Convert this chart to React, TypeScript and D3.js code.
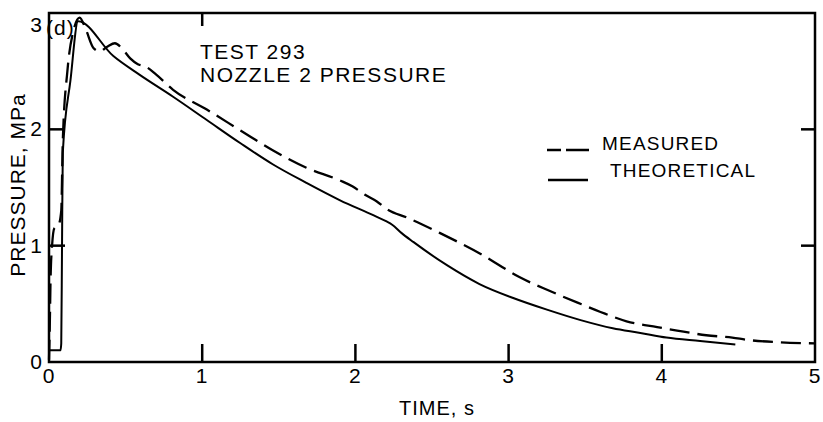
import React, { useEffect, useRef } from 'react';
import * as d3 from 'd3';

// values (time in s, pressure in MPa)
const measuredTime = [0.0, 0.005, 0.01, 0.02, 0.035, 0.06, 0.08, 0.09, 0.12, 0.16, 0.2, 0.24, 0.29, 0.33, 0.38, 0.43, 0.48, 0.53, 0.58, 0.63, 0.7, 0.81, 1.03, 1.25, 1.46, 1.68, 1.9, 1.98, 2.06, 2.14, 2.21, 2.34, 2.55, 2.83, 3.07, 3.27, 3.45, 3.6, 3.77, 3.97, 4.1, 4.29, 4.46, 4.56, 4.77, 5.0];
const measuredPressure = [0.02, 0.3, 0.7, 1.0, 1.15, 1.17, 1.3, 1.9, 2.5, 2.85, 2.96, 2.86, 2.7, 2.67, 2.71, 2.74, 2.69, 2.61, 2.56, 2.54, 2.47, 2.34, 2.17, 1.99, 1.82, 1.67, 1.56, 1.51, 1.44, 1.38, 1.31, 1.24, 1.11, 0.92, 0.73, 0.61, 0.51, 0.43, 0.35, 0.3, 0.27, 0.23, 0.21, 0.19, 0.17, 0.16];

const theoryTime = [0.0, 0.075, 0.08, 0.085, 0.09, 0.14, 0.19, 0.42, 0.59, 0.81, 1.03, 1.25, 1.46, 1.68, 1.9, 2.12, 2.2, 2.24, 2.3, 2.38, 2.6, 2.81, 3.03, 3.25, 3.47, 3.68, 3.86, 4.03, 4.25, 4.48];
const theoryPressure = [0.1, 0.1, 0.16, 1.0, 1.8, 2.42, 2.93, 2.63, 2.47, 2.28, 2.08, 1.88, 1.7, 1.54, 1.39, 1.26, 1.21, 1.18, 1.11, 1.03, 0.83, 0.67, 0.55, 0.45, 0.36, 0.29, 0.25, 0.21, 0.18, 0.15];

const xTicks = [0, 1, 2, 3, 4, 5];
const yTicks = [0, 1, 2, 3];

const FONT = '"Liberation Sans", Arial, Helvetica, sans-serif';

export default function App() {
  const ref = useRef<SVGSVGElement>(null);

  useEffect(() => {
    const svg = d3.select(ref.current);
    svg.selectAll('*').remove();

    const x = d3.scaleLinear().domain([0, 5]).range([49, 815]);
    const y = d3.scaleLinear().domain([0, 3]).range([362, 13]);

    // curves
    const measured = measuredTime.map((t, i) => [t, measuredPressure[i]]);
    const theory = theoryTime.map((t, i) => [t, theoryPressure[i]]);
    const path = d3.line<number[]>()
      .x(d => x(d[0]))
      .y(d => y(d[1]))
      .curve(d3.curveMonotoneX);

    svg.append('path')
      .attr('d', path(theory))
      .attr('fill', 'none')
      .attr('stroke', '#000')
      .attr('stroke-width', 2);

    svg.append('path')
      .attr('d', path(measured))
      .attr('fill', 'none')
      .attr('stroke', '#000')
      .attr('stroke-width', 2.3)
      .attr('stroke-dasharray', '20,8');

    // frame
    svg.append('rect')
      .attr('x', x(0)).attr('y', y(3))
      .attr('width', x(5) - x(0)).attr('height', y(0) - y(3))
      .attr('fill', 'none').attr('stroke', '#000').attr('stroke-width', 2.5);

    // inward ticks
    const tk = svg.append('g').attr('stroke', '#000').attr('stroke-width', 2.5);
    xTicks.filter(v => v > 0 && v < 5).forEach(v => {
      tk.append('line').attr('x1', x(v)).attr('x2', x(v)).attr('y1', y(0)).attr('y2', y(0) - 18);
    });
    tk.append('line').attr('x1', x(1)).attr('x2', x(1)).attr('y1', y(3)).attr('y2', y(3) + 13);
    yTicks.filter(v => v > 0 && v < 3).forEach(v => {
      tk.append('line').attr('x1', x(0)).attr('x2', x(0) + 16).attr('y1', y(v)).attr('y2', y(v));
      tk.append('line').attr('x1', x(5)).attr('x2', x(5) - 14).attr('y1', y(v)).attr('y2', y(v));
    });

    const txt = (sx, sy, s, size, anchor = 'start') =>
      svg.append('text')
        .attr('x', sx).attr('y', sy)
        .attr('font-family', FONT)
        .attr('font-size', size)
        .attr('letter-spacing', 1)
        .attr('text-anchor', anchor)
        .attr('fill', '#000')
        .text(s);

    // tick labels
    xTicks.forEach(v => txt(x(v), 383, String(v), 21, 'middle'));
    yTicks.forEach(v => txt(43, v === 3 ? 32 : y(v) + 7, String(v), 21, 'end'));

    // axis titles
    txt(437, 415, 'TIME, s', 20, 'middle');
    txt(0, 0, 'PRESSURE, MPa', 21, 'middle').attr('transform', 'translate(25,185) rotate(-90)');

    // annotations
    txt(46, 35, '(d)', 21);
    txt(200, 59, 'TEST 293', 21).attr('letter-spacing', 1.5);
    txt(200, 82, 'NOZZLE 2 PRESSURE', 21).attr('letter-spacing', 1.5);

    // legend
    svg.append('line')
      .attr('x1', 547).attr('x2', 590).attr('y1', 150).attr('y2', 150)
      .attr('stroke', '#000').attr('stroke-width', 2.3).attr('stroke-dasharray', '14,5,9,0');
    txt(602, 150, 'MEASURED', 19).attr('letter-spacing', 1.2);
    svg.append('line')
      .attr('x1', 548).attr('x2', 588).attr('y1', 180).attr('y2', 180)
      .attr('stroke', '#000').attr('stroke-width', 2.3);
    txt(610, 177, 'THEORETICAL', 19).attr('letter-spacing', 1.2);
  }, []);

  return (
    <svg
      ref={ref}
      width={823}
      height={422}
      style={{ position: 'absolute', left: 0, top: 0, background: '#fff' }}
    />
  );
}
